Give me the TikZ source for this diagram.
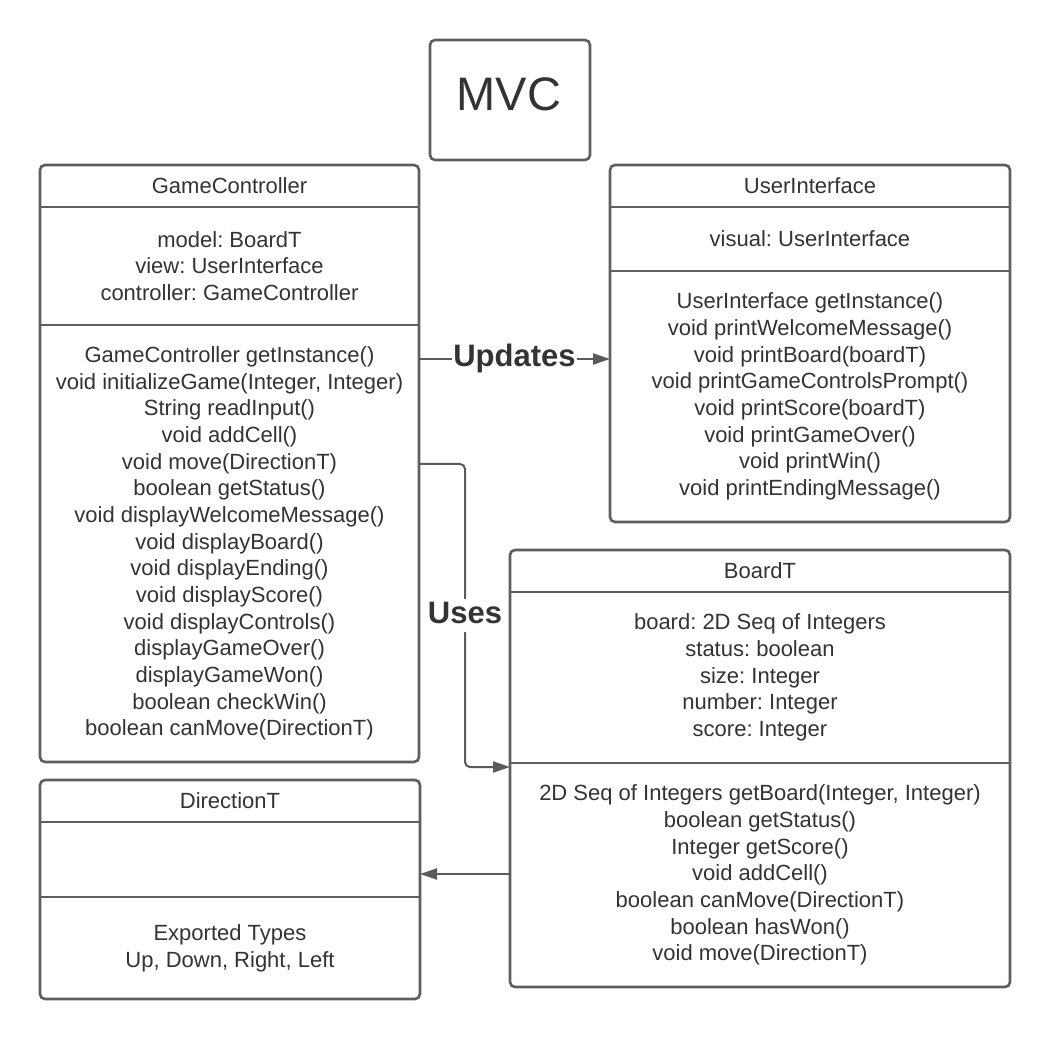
\documentclass[tikz,border=0pt]{standalone}
\usepackage{fontspec}
\setmainfont{Liberation Sans}
\usetikzlibrary{arrows.meta,fit}
\frenchspacing
\definecolor{edgegray}{HTML}{5E5E5E}
\definecolor{linegray}{HTML}{5A5A5A}
\definecolor{txtgray}{HTML}{333333}
\tikzset{
  classbox/.style={draw=edgegray, line width=2.6pt, rounded corners=5pt, inner sep=0pt, outer sep=0pt, fill=white},
  sepline/.style={draw=edgegray, line width=2.6pt},
  txt/.style={inner sep=0pt, align=center, text=txtgray, font=\fontsize{22}{26.67}\selectfont},
  conn/.style={draw=linegray, line width=2pt, -{Triangle[length=17pt,width=11pt]}},
  lbl/.style={fill=white, text=txtgray, inner xsep=1pt, inner ysep=0pt, text height=24pt, text depth=9pt, font=\fontsize{31}{36}\selectfont\bfseries},
}
% \umlclass{name}{x1}{y1}{x2}{s1}{s2}{y2}{header}{attrs}{methods}
\newcommand{\umlclass}[9]{%
  \node[classbox, fit={(#2,#3) (#4,#7)}] (#1) {};
  \draw[sepline] (#2,#5) -- (#4,#5);
  \draw[sepline] (#2,#6) -- (#4,#6);
  \node[txt] (#1-h) at ({(#2+#4)/2},{(#3+#5)/2}) {#8};
  \node[txt] (#1-a) at ({(#2+#4)/2},{(#5+#6)/2}) {#9};
  \umlclassrest{#1}{#2}{#4}{#6}{#7}%
}
\newcommand{\umlclassrest}[6]{%
  \node[txt] (#1-m) at ({(#2+#3)/2},{(#4+#5)/2}) {#6};
}
\begin{document}
\begin{tikzpicture}[x=1pt,y=-1pt]
\useasboundingbox (0,0) rectangle (1050,1040);
\fill[white] (0,0) rectangle (1050,1040);

% MVC title
\node[classbox, fit={(430,40) (590,160)}] (mvc) {};
\node[inner sep=0pt, text=txtgray, font=\fontsize{47}{52}\selectfont] (mvct) at (509,94) {MVC};

% GameController
\umlclass{gc}{40}{165}{419}{207}{325}{762}{GameController}{model: BoardT\\view: UserInterface\\controller: GameController}{GameController getInstance()\\void initializeGame(Integer, Integer)\\String readInput()\\void addCell()\\void move(DirectionT)\\boolean getStatus()\\void displayWelcomeMessage()\\void displayBoard()\\void displayEnding()\\void displayScore()\\void displayControls()\\displayGameOver()\\displayGameWon()\\boolean checkWin()\\boolean canMove(DirectionT)}

% UserInterface
\umlclass{ui}{610}{165}{1010}{207}{271}{522}{UserInterface}{visual: UserInterface}{UserInterface getInstance()\\void printWelcomeMessage()\\void printBoard(boardT)\\void printGameControlsPrompt()\\void printScore(boardT)\\void printGameOver()\\void printWin()\\void printEndingMessage()}

% BoardT
\umlclass{bt}{510}{550}{1010}{592}{763}{987}{BoardT}{board: 2D Seq of Integers\\status: boolean\\size: Integer\\number: Integer\\score: Integer}{2D Seq of Integers getBoard(Integer, Integer)\\boolean getStatus()\\Integer getScore()\\void addCell()\\boolean canMove(DirectionT)\\boolean hasWon()\\void move(DirectionT)}

% DirectionT
\umlclass{dt}{40}{780}{420}{822}{897}{999}{DirectionT}{}{Exported Types\\Up, Down, Right, Left}

% connectors
\coordinate (upd) at (0,359);
\coordinate (u1) at (465,464);
\coordinate (u2) at (465,767);
\coordinate (dl) at (0,874);

\draw[conn] (gc.east |- upd) -- node[lbl] (updl) {Updates} (ui.west |- upd);
\draw[conn, rounded corners=5pt] (gc.east |- u1) -- (u1) -- node[lbl] (usesl) {Uses} (u2) -- (bt.west |- u2);
\draw[conn] (bt.west |- dl) -- (dt.east |- dl);
\end{tikzpicture}
\end{document}
